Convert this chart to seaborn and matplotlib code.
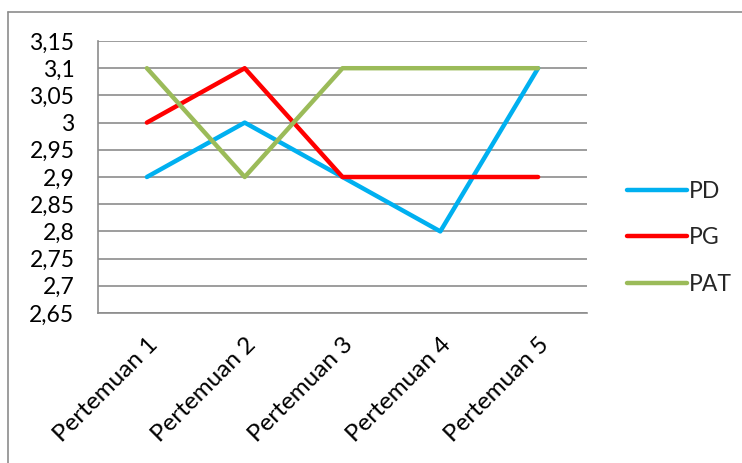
import matplotlib
matplotlib.use("Agg")
import matplotlib.pyplot as plt
import matplotlib.transforms as mtransforms
import seaborn as sns
import pandas as pd
from matplotlib.lines import Line2D

categories = ["Pertemuan 1", "Pertemuan 2", "Pertemuan 3", "Pertemuan 4", "Pertemuan 5"]
pd_values = [2.9, 3.0, 2.9, 2.8, 3.1]
pg_values = [3.0, 3.1, 2.9, 2.9, 2.9]
pat_values = [3.1, 2.9, 3.1, 3.1, 3.1]
series_names = ["PD", "PG", "PAT"]
y_ticks = [2.65, 2.7, 2.75, 2.8, 2.85, 2.9, 2.95, 3.0, 3.05, 3.1, 3.15]
y_tick_labels = ["2,65", "2,7", "2,75", "2,8", "2,85", "2,9", "2,95", "3", "3,05", "3,1", "3,15"]

rows = []
for name, vals in zip(series_names, [pd_values, pg_values, pat_values]):
    for c, v in zip(categories, vals):
        rows.append({"Kategori": c, "Nilai": v, "Seri": name})
df = pd.DataFrame(rows)

sns.set_theme(style="white")
plt.rcParams["font.family"] = ["Lato", "DejaVu Sans"]
FS = 16.5

fig = plt.figure(figsize=(7.42, 4.63), dpi=100)
ax = fig.add_axes([98 / 742, 1 - 313 / 463, (587 - 98) / 742, (313 - 41) / 463])

palette = {"PD": "#00B0F0", "PG": "#FF0000", "PAT": "#9BBB59"}
sns.lineplot(data=df, x="Kategori", y="Nilai", hue="Seri", palette=palette,
             linewidth=3.2, ax=ax, sort=False, legend=True, solid_capstyle="round")

ax.set_xlim(-0.5, len(categories) - 0.5)
ax.set_ylim(y_ticks[0], y_ticks[-1])
ax.set_yticks(y_ticks)
ax.set_yticklabels(y_tick_labels, fontsize=FS, color="black")
ax.yaxis.grid(True, color="#8c8c8c", linewidth=1.2)
ax.xaxis.grid(False)

ax.set_xticks([i - 0.5 for i in range(len(categories) + 1)])
ax.set_xticklabels([""] * (len(categories) + 1))
ax.set_xticks(range(len(categories)), minor=True)
ax.set_xticklabels(categories, minor=True, rotation=45, ha="right", va="top",
                   rotation_mode="anchor", fontsize=17.5, color="black")
offset = mtransforms.ScaledTranslation(-17 / 100, 0, fig.dpi_scale_trans)
for lbl in ax.get_xticklabels(minor=True):
    lbl.set_transform(lbl.get_transform() + offset)
ax.tick_params(axis="x", which="major", length=5, width=1.2, color="#8c8c8c", direction="out")
ax.tick_params(axis="x", which="minor", length=0, pad=15)
ax.tick_params(axis="y", length=7, width=1.2, color="#8c8c8c", direction="out", pad=10)
ax.set_xlabel("")
ax.set_ylabel("")

for s in ["top", "right"]:
    ax.spines[s].set_visible(False)
for s in ["left", "bottom"]:
    ax.spines[s].set_color("#8c8c8c")
    ax.spines[s].set_linewidth(1.2)

handles, labels = ax.get_legend_handles_labels()
for h in handles:
    h.set_solid_capstyle("round")
ax.legend(handles=handles, labels=labels, loc="upper left",
          bbox_to_anchor=(618 / 742, 1 - 172 / 463), bbox_transform=fig.transFigure,
          frameon=False, fontsize=FS, handlelength=2.6, handletextpad=0.1,
          labelspacing=1.1, borderaxespad=0)

# chart area frame
fig.add_artist(Line2D([8 / 742, 1.0], [1 - 12 / 463, 1 - 12 / 463], transform=fig.transFigure,
                      color="#8c8c8c", linewidth=1.2))
fig.add_artist(Line2D([8 / 742, 8 / 742], [0, 1 - 12 / 463], transform=fig.transFigure,
                      color="#8c8c8c", linewidth=1.2))

fig.savefig("out.png", dpi=100)
